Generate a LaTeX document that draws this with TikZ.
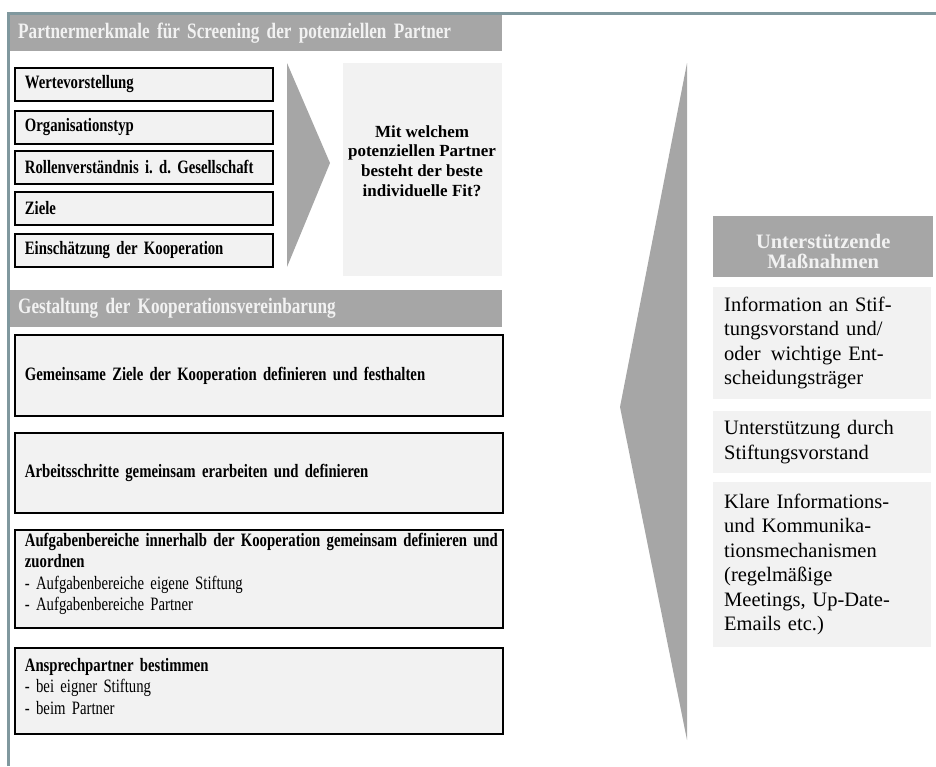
\documentclass[tikz,border=0pt]{standalone}
\usepackage{fontspec}
\setmainfont{Liberation Serif}
\newfontfamily\narrowfont{Liberation Serif}[FakeStretch=0.78]
\usetikzlibrary{positioning}
\frenchspacing

\definecolor{framecol}{RGB}{128,152,158}
\definecolor{headgray}{RGB}{166,166,166}
\definecolor{boxgray}{RGB}{242,242,242}

\tikzset{
    headbar/.style={fill=headgray, text=boxgray, anchor=north west, inner xsep=10, inner ysep=0,
        minimum height=37, text width=474, align=left,
        font=\narrowfont\bfseries\fontsize{22}{24}\selectfont},
    itembox/.style={draw=black, line width=1.8, fill=boxgray, anchor=north west, inner xsep=10, inner ysep=0,
        text width=238, align=left, font=\narrowfont\bfseries\fontsize{18.9}{21.5}\selectfont},
    taskbox/.style={itembox, text width=468, font=\narrowfont\fontsize{18.9}{21.5}\selectfont},
    sidehead/.style={fill=headgray, text=boxgray, anchor=north west, inner sep=0, minimum width=220,
        minimum height=61, text width=220, align=center, font=\bfseries\fontsize{20.5}{20.5}\selectfont},
    sidebox/.style={fill=boxgray, anchor=north west, inner xsep=11, inner ysep=0, text width=196,
        align=left, font=\fontsize{20.5}{24.5}\selectfont},
}

\begin{document}
\begin{tikzpicture}[x=1pt,y=-1pt]
    \useasboundingbox (0,0) rectangle (936,766);   % Page size

    % Screening of the partners
    \node[headbar] (screenhead) at (8,14) {Partnermerkmale für Screening der potenziellen Partner};
    \foreach \name/\top/\txt in {werte/67/Wertevorstellung, orga/110/Organisationstyp,
        rolle/150/Rollenverständnis i. d. Gesellschaft, ziele/191/Ziele, einsch/233/Einschätzung der Kooperation} {
        \node[itembox, minimum height=33] (\name) at (14,\top) {\txt};    % Feature boxes
    }
    \fill[headgray] (287,63) -- (330,163) -- (287,267) -- cycle;           % Arrow to question

    \node[fill=boxgray, anchor=north west, minimum width=159, minimum height=213, inner sep=0] (fitbox) at (343,63) {};
    \node[align=center, font=\bfseries\fontsize{17}{19.7}\selectfont] (fittext) at (422,161)
        {Mit welchem\\potenziellen Partner\\besteht der beste\\individuelle Fit?};

    % Agreement
    \node[headbar] (agreehead) at (8,290) {Gestaltung der Kooperationsvereinbarung};
    \node[taskbox, minimum height=81] (goals) at (14,334)
        {\textbf{Gemeinsame Ziele der Kooperation definieren und festhalten}};
    \node[taskbox, minimum height=80] (steps) at (14,432)
        {\textbf{Arbeitsschritte gemeinsam erarbeiten und definieren}};
    \node[taskbox, minimum height=98] (tasks) at (14,529)
        {\mbox{\textbf{Aufgabenbereiche innerhalb der Kooperation gemeinsam definieren und}}\\
         \textbf{zuordnen}\\- Aufgabenbereiche eigene Stiftung\\- Aufgabenbereiche Partner\rule[-14pt]{0pt}{1pt}};
    \node[taskbox, minimum height=86] (contact) at (14,647)
        {\textbf{Ansprechpartner bestimmen}\\- bei eigner Stiftung\\- beim Partner\rule[-9pt]{0pt}{1pt}};

    % Supporting measures
    \fill[headgray] (687,63) -- (620,407) -- (687,740) -- cycle;           % Big arrow
    \node[sidehead] (supphead) at (713,216) {\rule{0pt}{24pt}Unterstützende\\Maßnahmen};
    \node[sidebox, minimum height=112] (inform) at (713,287)
        {Information an Stif-\\tungsvorstand und/\\oder\enspace wichtige Ent-\\scheidungsträger};
    \node[sidebox, minimum height=62] (board) at (713,411)
        {Unterstützung durch\\Stiftungsvorstand};
    \node[sidebox, minimum height=165] (comm) at (713,482)
        {Klare Informations-\\und Kommunika-\\tionsmechanismen\\(regelmäßige\\Meetings, Up-Date-\\Emails etc.)};

    \draw[framecol, line width=3] (8,766) -- (8,13) -- (936,13);          % Frame
\end{tikzpicture}
\end{document}
